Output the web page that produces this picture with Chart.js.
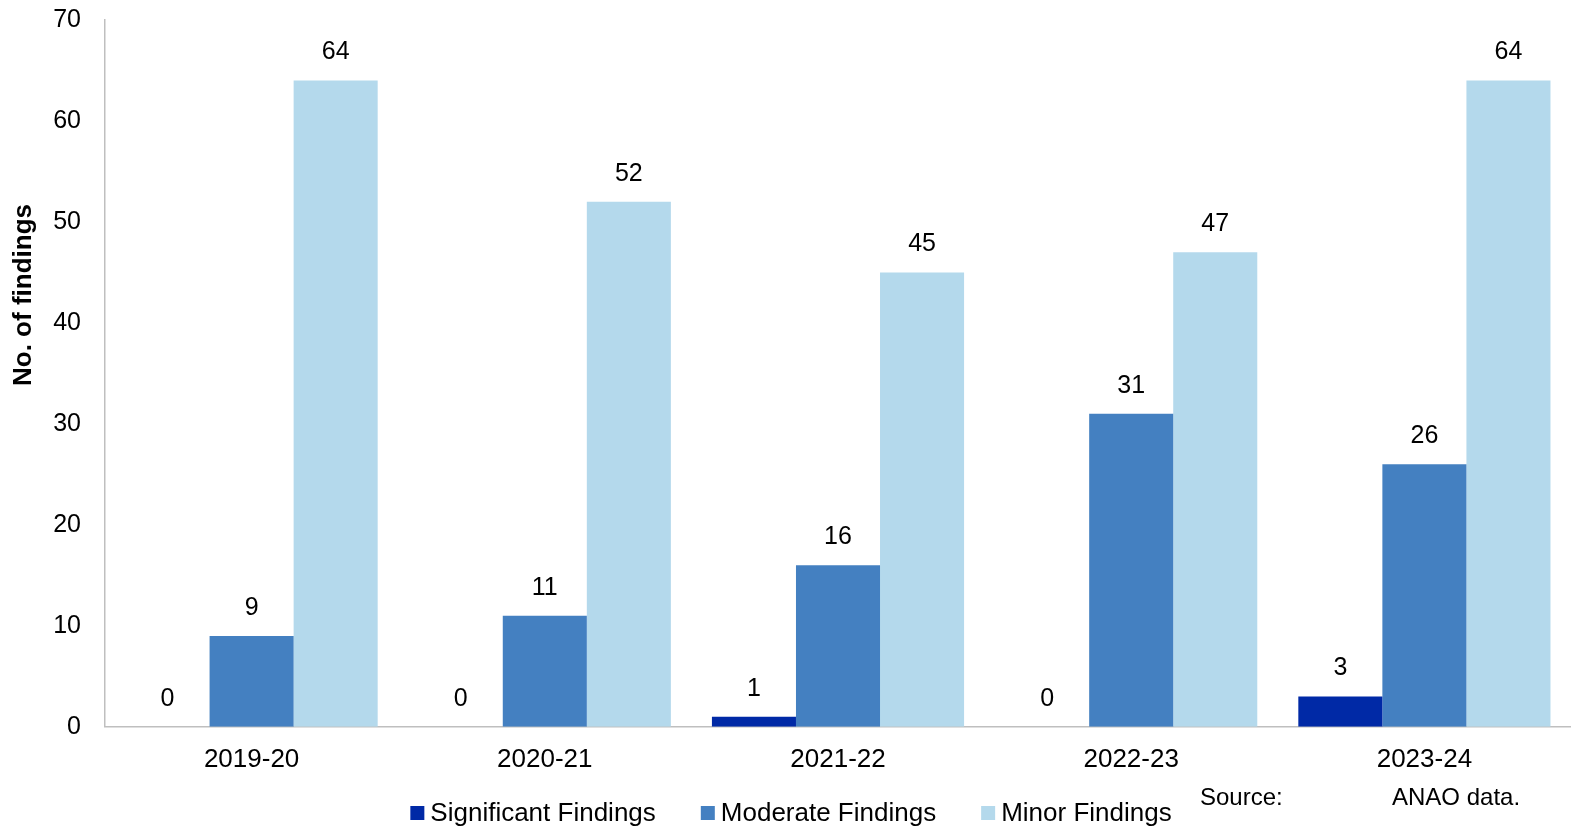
<!DOCTYPE html>
<html>
<head>
<meta charset="utf-8">
<script src="https://cdn.jsdelivr.net/npm/chart.js@4/dist/chart.umd.min.js"></script>
<style>
  html, body { margin: 0; padding: 0; background: #fff; }
  #wrap { width: 1571px; height: 828px; }
</style>
</head>
<body>
<div id="wrap"><canvas id="myChart"></canvas></div>
<script>
const years = ['2019-20', '2020-21', '2021-22', '2022-23', '2023-24'];
const significant = [0, 0, 1, 0, 3];
const moderate = [9, 11, 16, 31, 26];
const minor = [64, 52, 45, 47, 64];
const yTicks = [0, 10, 20, 30, 40, 50, 60, 70];

const FONT = "'Liberation Sans', Arial, sans-serif";

// value labels above each bar, y title, legend row and source note
const extras = {
    id: 'extras',
    afterDatasetsDraw(chart) {
        const ctx = chart.ctx;
        ctx.save();
        ctx.fillStyle = '#000';
        ctx.font = '25px ' + FONT;
        ctx.textAlign = 'center';
        ctx.textBaseline = 'middle';
        chart.data.datasets.forEach((ds, i) => {
            chart.getDatasetMeta(i).data.forEach((bar, j) => {
                ctx.fillText(String(ds.data[j]), bar.x, bar.y - 28);
            });
        });

        // axis title
        ctx.save();
        ctx.translate(24, 295);
        ctx.rotate(-Math.PI / 2);
        ctx.font = 'bold 26px ' + FONT;
        ctx.fillText('No. of findings', 0, 0);
        ctx.restore();

        // legend
        ctx.textAlign = 'left';
        ctx.font = '26px ' + FONT;
        const box = 14, gapText = 6, gapItem = 45, legendY = 813;
        const widths = chart.data.datasets.map(ds => box + gapText + ctx.measureText(ds.label).width);
        const total = widths.reduce((a, b) => a + b, 0) + gapItem * (widths.length - 1);
        let x = 791 - total / 2;
        chart.data.datasets.forEach((ds, i) => {
            ctx.fillStyle = ds.backgroundColor;
            ctx.fillRect(x, legendY - box / 2, box, box);
            ctx.fillStyle = '#000';
            ctx.fillText(ds.label, x + box + gapText, legendY + 1);
            x += widths[i] + gapItem;
        });

        // source note
        ctx.font = '24px ' + FONT;
        ctx.fillText('Source:', 1200, 798);
        ctx.fillText('ANAO data.', 1392, 798);
        ctx.restore();
    }
};

const ctx = document.getElementById('myChart').getContext('2d');
new Chart(ctx, {
    type: 'bar',
    data: {
        labels: years,
        datasets: [{
            label: 'Significant Findings',
            data: significant,
            backgroundColor: '#0029a6'
        }, {
            label: 'Moderate Findings',
            data: moderate,
            backgroundColor: '#4480c1'
        }, {
            label: 'Minor Findings',
            data: minor,
            backgroundColor: '#b4d9ec'
        }]
    },
    options: {
        responsive: true,
        maintainAspectRatio: false,
        animation: false,
        categoryPercentage: 0.86,
        barPercentage: 1,
        layout: {
            padding: { top: 20, right: 0, left: 0, bottom: 36 }
        },
        plugins: {
            tooltip: { enabled: false },
            legend: { display: false }
        },
        scales: {
            x: {
                grid: { display: false, drawTicks: false },
                border: { display: true, color: '#bfbfbf', width: 1.5 },
                ticks: {
                    color: '#000',
                    font: { family: FONT, size: 26 },
                    padding: 17,
                    maxRotation: 0
                }
            },
            y: {
                min: 0,
                max: 70,
                afterBuildTicks(scale) {
                    scale.ticks = yTicks.map(v => ({ value: v }));
                },
                afterFit(scale) {
                    scale.width = 105;
                    scale.paddingTop = 0;
                    scale.paddingBottom = 0;
                },
                grid: { display: false, drawTicks: false },
                border: { display: true, color: '#bfbfbf', width: 1.5 },
                ticks: {
                    color: '#000',
                    font: { family: FONT, size: 25 },
                    padding: 24
                }
            }
        }
    },
    plugins: [extras]
});
</script>
</body>
</html>
